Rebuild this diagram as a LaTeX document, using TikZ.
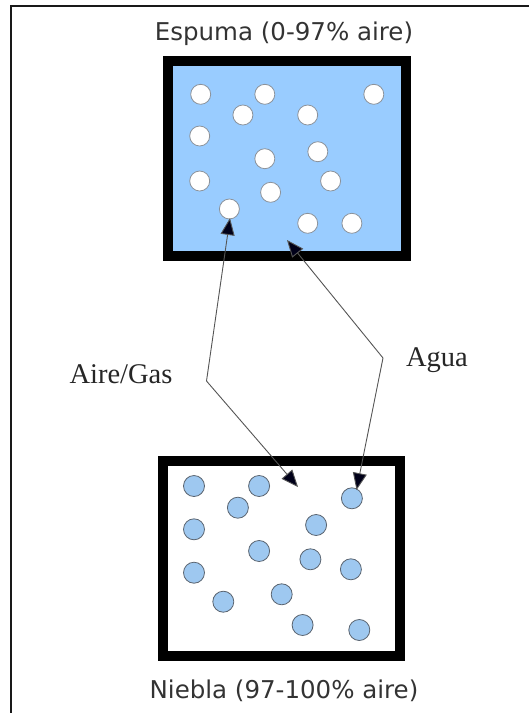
\documentclass[tikz,border=0pt]{standalone}
\usepackage{fontspec}
\setmainfont{Liberation Serif}
\newfontfamily\titlefont{DejaVu Sans}
\usetikzlibrary{arrows.meta}
\definecolor{foam}{HTML}{99CCFF}
\definecolor{drop}{HTML}{9EC8F0}
\definecolor{rim}{HTML}{5A6470}
\definecolor{titlegray}{HTML}{333333}
\definecolor{wire}{HTML}{555555}
\tikzset{
  box/.style={draw=black, line width=10pt, inner sep=0pt},
  title/.style={anchor=base, text=titlegray, font=\titlefont\fontsize{24.5}{28}\selectfont},
  tag/.style={anchor=base, text=black!85, font=\fontsize{28.5}{32}\selectfont},
  bubble/.style={fill=white, draw=rim!70, line width=0.8pt},
  droplet/.style={fill=drop, draw=rim, line width=0.8pt},
  flow/.style={draw=wire, line width=0.9pt,
    {Triangle[length=17pt,width=14pt,fill=black!90!blue]}-{Triangle[length=17pt,width=14pt,fill=black!90!blue]}}
}
\begin{document}
\begin{tikzpicture}[x=1pt,y=-1pt]
\useasboundingbox (0,0) rectangle (529,713);
% outer frame (top and left edges only)
\draw[line width=2.3pt, black!90] (11,713) -- (11,5.8) -- (529,5.8);

% foam container
\node[box, fill=foam, minimum width=238.4pt, minimum height=195pt] (espuma) at (286.8,158.2) {};
\foreach \x/\y in {200.7/94.3, 264.8/94.3, 373.8/94.3, 242.9/115, 307.7/115,
                   199.7/136, 317.8/151.7, 264.8/158.7, 199.7/181, 330.6/181,
                   270.6/192.3, 229.4/209, 307.7/223.3, 351.9/223.3}
  \draw[bubble] (\x,\y) circle[radius=10pt];

% mist container
\node[box, fill=white, minimum width=237.5pt, minimum height=195.5pt] (niebla) at (281.25,558.25) {};
\foreach \x/\y in {194/486, 259.1/486, 237.9/507.7, 351.9/498.3, 194/529.3,
                   316.1/525, 259.1/551, 310.4/559.3, 194/572.7, 350.9/569.3,
                   223.3/601.7, 281.7/594.3, 302.6/625, 359.3/630}
  \draw[droplet] (\x,\y) circle[radius=10.5pt];

% titles
\node[title] (tEspuma) at (284,40) {Espuma (0-97\% aire)};
\node[title] (tNiebla) at (284,698) {Niebla (97-100\% aire)};

% exchange paths
\coordinate (airTop) at (230,218);
\coordinate (airBend) at (206.5,381);
\coordinate (airBot) at (298,487);
\coordinate (waterTop) at (287,240);
\coordinate (waterBend) at (383,358);
\coordinate (waterBot) at (356.5,490);
\draw[flow] (airTop) -- (airBend) -- (airBot);
\draw[flow] (waterTop) -- (waterBend) -- (waterBot);

% labels
\node[tag] (lAire) at (121,383) {Aire/Gas};
\node[tag] (lAgua) at (437,366) {Agua};
\end{tikzpicture}
\end{document}
